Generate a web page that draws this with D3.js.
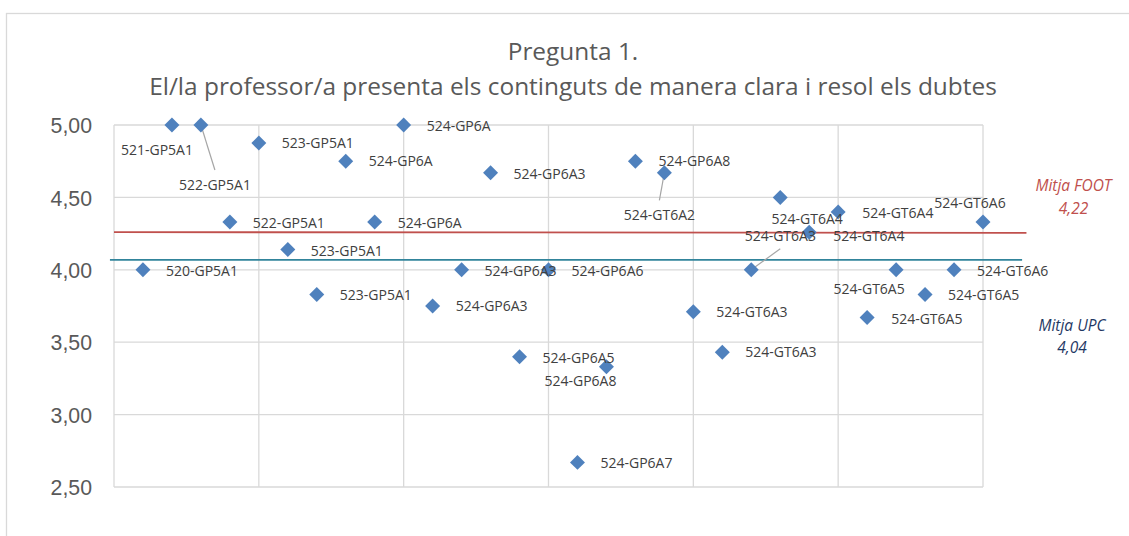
<!DOCTYPE html>
<html><head><meta charset="utf-8">
<script src="https://cdn.jsdelivr.net/npm/d3@7"></script>
<style>
html,body{margin:0;padding:0;background:#fff;}
svg{display:block;font-family:"Open Sans",Lato,sans-serif;}
</style></head>
<body><svg id="c" width="1129" height="536"></svg>
<script>
// ---- data ----
const titleLines = ["Pregunta 1.", "El/la professor/a presenta els continguts de manera clara i resol els dubtes"];
const xValues = [1,2,3,4,5,6,7,8,9,10,11,12,13,14,15,16,17,18,19,20,21,22,23,24,25,26,27,28,29,30];
const yValues = [4.00,5.00,5.00,4.33,4.875,4.14,3.83,4.75,4.33,5.00,3.75,4.00,4.67,3.40,4.00,2.67,3.33,4.75,4.67,3.71,3.43,4.00,4.50,4.26,4.40,3.67,4.00,3.83,4.00,4.33];
const pointLabels = ["520-GP5A1","521-GP5A1","522-GP5A1","522-GP5A1","523-GP5A1","523-GP5A1","523-GP5A1","524-GP6A","524-GP6A","524-GP6A","524-GP6A3","524-GP6A3","524-GP6A3","524-GP6A5","524-GP6A6","524-GP6A7","524-GP6A8","524-GP6A8","524-GT6A2","524-GT6A3","524-GT6A3","524-GT6A3","524-GT6A4","524-GT6A4","524-GT6A4","524-GT6A5","524-GT6A5","524-GT6A5","524-GT6A6","524-GT6A6"];
const yTicks = [2.5,3.0,3.5,4.0,4.5,5.0];
const xTicks = [0,5,10,15,20,25,30];
const meanFootLabel = ["Mitja FOOT","4,22"];
const meanUpcLabel = ["Mitja UPC","4,04"];
const meanFootLine = {x:[0,31.5], y:[4.26,4.255]};
const meanUpcLine = {x:[-0.14,31.35], y:[4.068,4.068]};

// ---- layout (label placement, in pixels relative to point) ----
// [dx of label anchor, dy of label centre, anchor]
const labelPlacement = [
 [23,1,"start"],[-15,25,"middle"],[14,60,"middle"],[23,1,"start"],[23,0,"start"],[23,1,"start"],[23,1,"start"],[23,0,"start"],[23,1,"start"],[23,1,"start"],
 [23,0,"start"],[23,1,"start"],[23,1,"start"],[23,1,"start"],[23,1,"start"],[23,1,"start"],[-26,14.5,"middle"],[23,0,"start"],[-5,42,"middle"],[23,0,"start"],
 [23,0,"start"],[29,-34,"middle"],[27,21.5,"middle"],[24,4,"start"],[24,1,"start"],[24,1.5,"start"],[-27,19.5,"middle"],[23,1,"start"],[23,1,"start"],[-13,-19,"middle"]
];
const leaderEnds = {2:[14,45], 18:[-5,27.5], 21:[29,-21]};

const svg = d3.select("#c");
const W=1129,H=536;
const plot = {l:114, t:125, r:983, b:487};

// chart frame
svg.append("rect").attr("x",6.5).attr("y",13.5).attr("width",W+10).attr("height",H+10)
  .attr("fill","#fff").attr("stroke","#d9d9d9").attr("stroke-width",1.3);

const x = d3.scaleLinear().domain([0,30]).range([plot.l,plot.r]);
const y = d3.scaleLinear().domain([2.5,5]).range([plot.b,plot.t]);

function fitSize(opt, text, target, base){
  const t = svg.append("text").attr("font-size",base).attr("font-style",opt.style||null).text(text);
  const w = t.node().getComputedTextLength(); t.remove();
  return base*target/w;
}

// grid
const g = svg.append("g");
g.selectAll("line.h").data(yTicks).join("line")
  .attr("x1",plot.l).attr("x2",plot.r).attr("y1",d=>y(d)).attr("y2",d=>y(d))
  .attr("stroke","#d9d9d9").attr("stroke-width",1.3);
g.selectAll("line.v").data(xTicks).join("line")
  .attr("y1",plot.t).attr("y2",plot.b).attr("x1",d=>x(d)).attr("x2",d=>x(d))
  .attr("stroke","#d9d9d9").attr("stroke-width",1.3);

// y axis labels
const tickSize = fitSize({}, "5,00", 42, 20);
const yAxis = d3.axisLeft(y).tickValues(yTicks).tickSize(0).tickPadding(22)
  .tickFormat(d=>d3.format(".2f")(d).replace(".",","));
const ya = svg.append("g").attr("transform",`translate(${plot.l},0)`).call(yAxis);
ya.select(".domain").remove();
ya.selectAll("text").attr("font-size",tickSize).attr("fill","#595959").attr("font-family",null).attr("dy","0.36em");

// mean lines
const line = d3.line().x(d=>x(d[0])).y(d=>y(d[1]));
svg.append("path").attr("d",line(meanFootLine.x.map((v,i)=>[v,meanFootLine.y[i]])))
  .attr("stroke","#c0504d").attr("stroke-width",1.8).attr("fill","none");
svg.append("path").attr("d",line(meanUpcLine.x.map((v,i)=>[v,meanUpcLine.y[i]])))
  .attr("stroke","#31849b").attr("stroke-width",1.8).attr("fill","none");

// points
const pts = xValues.map((v,i)=>({x:v,y:yValues[i],label:pointLabels[i],i}));
const sym = d3.symbol(d3.symbolSquare, 112);
// leader lines
svg.append("g").selectAll("line").data(pts.filter(d=>leaderEnds[d.i])).join("line")
  .attr("x1",d=>x(d.x)).attr("y1",d=>y(d.y))
  .attr("x2",d=>x(d.x)+leaderEnds[d.i][0]).attr("y2",d=>y(d.y)+leaderEnds[d.i][1])
  .attr("stroke","#a6a6a6").attr("stroke-width",1.2);

svg.append("g").selectAll("path").data(pts).join("path")
  .attr("d",sym).attr("fill","#4f81bd")
  .attr("transform",d=>`translate(${x(d.x)},${y(d.y)}) rotate(45)`);

const labSize = fitSize({}, "520-GP5A1", 72, 14);
svg.append("g").selectAll("text").data(pts).join("text")
  .attr("x",d=>x(d.x)+labelPlacement[d.i][0])
  .attr("y",d=>y(d.y)+labelPlacement[d.i][1])
  .attr("dy","0.36em")
  .attr("text-anchor",d=>labelPlacement[d.i][2])
  .attr("font-size",labSize).attr("fill","#404040")
  .text(d=>d.label);

// title
const titleSize = fitSize({}, titleLines[1], 848, 24);
svg.append("g").selectAll("text").data(titleLines).join("text")
  .attr("x",573).attr("y",(d,i)=>i===0?60:95)
  .attr("text-anchor","middle").attr("font-size",titleSize).attr("fill","#595959")
  .text(d=>d);

// mean labels
const mSize = Math.min(15.5, fitSize({style:"italic"}, "Mitja FOOT", 87, 18));
svg.append("g").selectAll("text").data(meanFootLabel).join("text")
  .attr("x",1073.5).attr("y",(d,i)=>i===0?191:213.5)
  .attr("text-anchor","middle").attr("font-size",mSize).attr("font-style","italic").attr("fill","#c0504d")
  .text(d=>d);
svg.append("g").selectAll("text").data(meanUpcLabel).join("text")
  .attr("x",1072).attr("y",(d,i)=>i===0?330.5:353)
  .attr("text-anchor","middle").attr("font-size",mSize).attr("font-style","italic").attr("fill","#1f3864")
  .text(d=>d);
</script></body></html>
